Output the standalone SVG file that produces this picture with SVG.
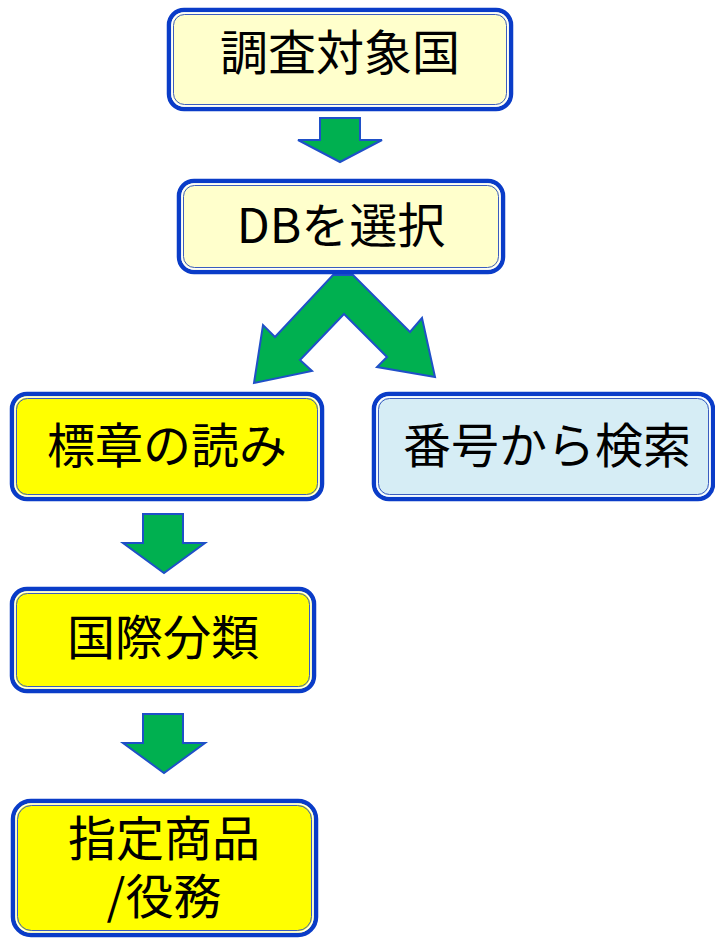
<svg xmlns="http://www.w3.org/2000/svg" width="715" height="938" viewBox="0 0 715 938">
<style>
.o{stroke:#0A3CC8;stroke-width:4.5}
.w{fill:none;stroke:#ffffff;stroke-width:1.5}
.i{fill:none;stroke:#3A5CC0;stroke-width:1}
.ly{fill:#FFFFCC}
.y{fill:#FFFF00}
.b{fill:#D6EDF5}
.t{font-family:"Noto Sans CJK JP","Noto Sans",sans-serif;font-size:48px;fill:#000;text-anchor:middle}
.a{fill:#00B050;stroke:#1F50C8;stroke-width:2;stroke-linejoin:miter}
</style>
<rect width="715" height="938" fill="#ffffff"/>
<g id="connectors">
<polygon class="a" points="320,118 360,118 360,140 382,140 340,162 298,140 320,140"/>
<polygon class="a" points="333,275 353,275 410,332 422,318 435,377 377,367 387,357 344,314 300,360 312,371 254,383 263,325 275,337"/>
<polygon class="a" points="143,514 183,514 183,543 205,543 164,573 123,543 143,543"/>
<polygon class="a" points="143,714 183,714 183,743 205,743 164,773 123,743 143,743"/>
</g>
<g id="n1">
<rect class="o ly" x="169" y="10" width="342" height="99" rx="15"/>
<rect class="w" x="172" y="13" width="336" height="93" rx="12"/>
<rect class="i" x="173.5" y="14.5" width="333" height="90" rx="11"/>
<text class="t" x="340" y="70">調査対象国</text>
</g>
<g id="n2">
<rect class="o ly" x="179" y="181" width="324" height="91" rx="15"/>
<rect class="w" x="182" y="184" width="318" height="85" rx="12"/>
<rect class="i" x="183.5" y="185.5" width="315" height="82" rx="11"/>
<text class="t" x="341" y="243">DBを選択</text>
</g>
<g id="n3">
<rect class="o y" x="12" y="394" width="310" height="105" rx="15"/>
<rect class="w" x="15" y="397" width="304" height="99" rx="12"/>
<rect class="i" x="16.5" y="398.5" width="301" height="96" rx="11"/>
<text class="t" x="167" y="463">標章の読み</text>
</g>
<g id="n4">
<rect class="o b" x="374" y="394" width="339" height="105" rx="15"/>
<rect class="w" x="377" y="397" width="333" height="99" rx="12"/>
<rect class="i" x="378.5" y="398.5" width="330" height="96" rx="11"/>
<text class="t" x="547" y="463">番号から検索</text>
</g>
<g id="n5">
<rect class="o y" x="12" y="589" width="302" height="102" rx="15"/>
<rect class="w" x="15" y="592" width="296" height="96" rx="12"/>
<rect class="i" x="16.5" y="593.5" width="293" height="93" rx="11"/>
<text class="t" x="163" y="655">国際分類</text>
</g>
<g id="n6">
<rect class="o y" x="13" y="801" width="303" height="134" rx="18"/>
<rect class="w" x="16" y="804" width="297" height="128" rx="15"/>
<rect class="i" x="17.5" y="805.5" width="294" height="125" rx="14"/>
<text class="t"><tspan x="164" y="856">指定商品</tspan><tspan x="164" y="914">/役務</tspan></text>
</g>
</svg>
